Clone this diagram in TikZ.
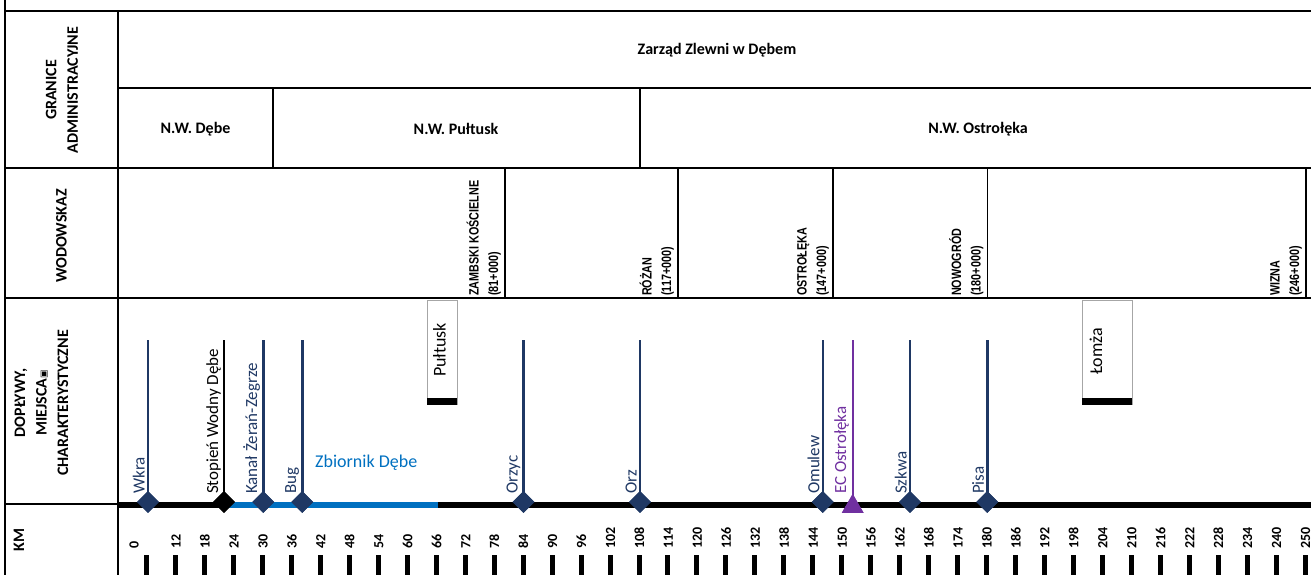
\documentclass[tikz,border=0pt]{standalone}
\usepackage{fontspec}
\setmainfont{Carlito}
\newfontfamily\gaugefont[FakeStretch=0.8]{Liberation Sans}
\newfontfamily\symbfont{DejaVu Sans}
\usetikzlibrary{shapes.geometric}
\definecolor{riverA}{HTML}{1F3864}
\definecolor{lakeB}{HTML}{0070C0}
\definecolor{plantC}{HTML}{7030A0}
\definecolor{boxline}{HTML}{A6A6A6}

\begin{document}
\begin{tikzpicture}[x=1pt,y=-1pt,
  grid/.style={line width=2.6pt,draw=black},
  subgrid/.style={line width=1.8pt,draw=black},
  head/.style={font=\fontsize{16}{19}\selectfont\bfseries,inner sep=0pt},
  side/.style={font=\fontsize{16}{21.5}\selectfont\bfseries,inner sep=0pt,rotate=90,align=center},
  gaugelab/.style={font=\gaugefont\fontsize{13.5}{19.5}\selectfont\bfseries,rotate=90,align=left,anchor=south west,inner sep=0pt},
  riverdot/.style={diamond,minimum width=22pt,minimum height=22pt,inner sep=0pt,fill=riverA},
  riverlab/.style={font=\fontsize{17}{20}\selectfont,rotate=90,anchor=south west,inner sep=0pt,text=riverA},
  trib/.style={line width=2.4pt,draw=riverA},
  citybox/.style={draw=boxline,line width=1pt,fill=white,minimum width=30pt,minimum height=104pt,inner sep=0pt},
  citylab/.style={font=\fontsize{18}{20}\selectfont,rotate=90,anchor=base west,inner sep=0pt},
  kmlab/.style={font=\fontsize{14}{16}\selectfont\bfseries,rotate=90,anchor=base west,inner sep=0pt}
]
\useasboundingbox (0,0) rectangle (1311,575);
\clip (0,0) rectangle (1311,575);

% table frame
\draw[grid] (5,0) -- (5,580);
\draw[grid] (118,11) -- (118,580);
\draw[grid] (5,11) -- (1320,11);
\draw[grid] (118,88) -- (1320,88);
\draw[grid] (5,168) -- (1320,168);
\draw[grid] (5,298) -- (1320,298);
\draw[grid] (5,504) -- (118,504);
\draw[subgrid] (273,88) -- (273,168);
\draw[subgrid] (640,88) -- (640,168);

% row titles
\node[side] (granice) at (62,90) {GRANICE\\ADMINISTRACYJNE};
\node[side] (wodowskaz) at (61.5,236) {WODOWSKAZ};
\node[side] (doplywy) at (41.5,403) {DOPŁYWY,\\MIEJSCA{\symbfont\fontsize{9}{9}\selectfont ▣}\\CHARAKTERYSTYCZNE};
\node[side] (km) at (19,540) {KM};

% administration
\node[head] (zarzad) at (717,50) {Zarząd Zlewni w Dębem};
\node[head] (nwdebe) at (195.5,129) {N.W. Dębe};
\node[head] (nwpultusk) at (456,129) {N.W. Pułtusk};
\node[head] (nwostroleka) at (978,129) {N.W. Ostrołęka};

% gauges
\foreach \x/\name/\gname/\km in {505/zambski/ZAMBSKI KOŚCIELNE/81,678/rozan/RÓŻAN/117,833/ostroleka/OSTROŁĘKA/147,987.5/nowogrod/NOWOGRÓD/180,1306/wizna/WIZNA/246} {
  \draw[subgrid] (\x,168) -- (\x,298);
  \node[gaugelab] (g\name) at (\x-4,296) {\gname\\(\km+000)};
}

% towns
\node[citybox] (pultusk) at (442,352) {};
\fill (pultusk.south west) rectangle ++(30,-7);
\node[citylab] (pultusklab) at (445.5,377) {Pułtusk};
\node[citybox,minimum width=50pt] (lomza) at (1107,352) {};
\fill (lomza.south west) rectangle ++(50,-7);
\node[citylab] (lomzalab) at (1102,375) {Łomża};

% river axis and reservoir
\draw[line width=6pt] (118,505) -- (1320,505);
\draw[line width=6.5pt,draw=lakeB] (228,505) -- (438,505);
\node[font=\fontsize{18}{20}\selectfont,text=lakeB,anchor=base west,inner sep=0pt] (zbiornik) at (315,467) {Zbiornik Dębe};

% tributaries
\foreach \x/\name/\lab in {148/wkra/Wkra,263.3/kanal/Kanał Żerań-Zegrze,302.3/bug/Bug,523.5/orzyc/Orzyc,640/orz/Orz,822.7/omulew/Omulew,910/szkwa/Szkwa,987.3/pisa/Pisa} {
  \coordinate (top\name) at (\x,340);
  \node[riverdot] (m\name) at (\x,502) {};
  \draw[trib] (top\name) -- (m\name.center);
  \node[riverdot] at (m\name) {};
  \node[riverlab] (l\name) at (\x-3,494) {\lab};
}
\coordinate (topstopien) at (224,340);
\node[riverdot,fill=black] (mstopien) at (224,502) {};
\draw[line width=1.5pt] (topstopien) -- (mstopien.center);
\node[riverdot,fill=black] at (mstopien) {};
\node[riverlab,text=black] (lstopien) at (221,494) {Stopień Wodny Dębe};
\coordinate (topec) at (852.7,340);
\node[regular polygon,regular polygon sides=3,minimum size=25pt,inner sep=0pt,fill=plantC] (mec) at (852.7,506.5) {};
\draw[line width=2pt,draw=plantC] (topec) -- (mec.center);
\node[regular polygon,regular polygon sides=3,minimum size=25pt,inner sep=0pt,fill=plantC] at (mec) {};
\node[riverlab,text=plantC] (lec) at (849,494) {EC Ostrołęka};

% km scale
\foreach \km [count=\i from 0] in {0,12,18,24,30,36,42,48,54,60,66,72,78,84,90,96,102,108,114,120,126,132,138,144,150,156,162,168,174,180,186,192,198,204,210,216,222,228,234,240,250} {
  \node[kmlab] (km\i) at ({146.7+28.96*\i+5-13*(\i==0)},549) {\km};
  \draw[line width=5pt] ({146.7+28.96*\i},555) -- ({146.7+28.96*\i},580);
}
\end{tikzpicture}
\end{document}
